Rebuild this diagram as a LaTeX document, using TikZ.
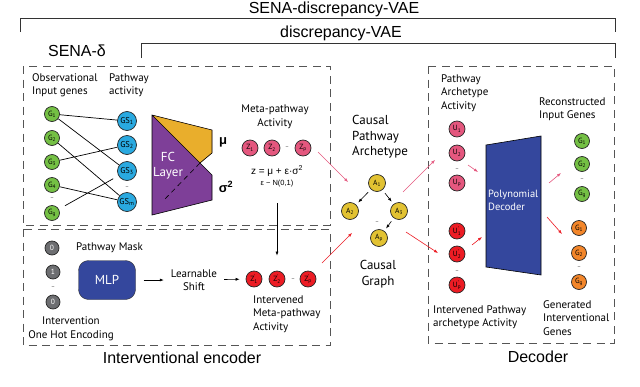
\documentclass[tikz,border=0pt]{standalone}
\usepackage{fontspec}
\setmainfont{PT Sans}
\newfontfamily\headfont{Liberation Sans}
\usetikzlibrary{arrows.meta,positioning,calc}
\definecolor{geneGreen}{HTML}{74C044}
\definecolor{gsBlue}{HTML}{29A9E0}
\definecolor{fcPurple}{HTML}{7E3F98}
\definecolor{muOrange}{HTML}{E9AE2C}
\definecolor{zPink}{HTML}{E4577E}
\definecolor{zRed}{HTML}{EC1C24}
\definecolor{archYellow}{HTML}{E2C232}
\definecolor{hotGray}{HTML}{6D6E71}
\definecolor{netBlue}{HTML}{34479D}
\definecolor{geneOrange}{HTML}{F3862A}
\definecolor{frameGray}{HTML}{555555}
\newcommand\prm[2]{#1\rlap{\textsuperscript{'}}\textsubscript{#2}}

\begin{document}
\begin{tikzpicture}[x=1pt, y=-1pt, every node/.style={font=\fontsize{11}{13.5}\selectfont},
  unit/.style={circle, draw=black!85, line width=0.7pt, inner sep=0pt, minimum size=15pt, font=\fontsize{7.5}{8}\selectfont},
  gene/.style={unit, fill=geneGreen},
  gset/.style={unit, fill=gsBlue, minimum size=19pt, font=\fontsize{8.5}{9}\selectfont},
  meta/.style={unit, fill=zPink, minimum size=16pt},
  shifted/.style={unit, fill=zRed, minimum size=16pt},
  arch/.style={unit, fill=archYellow, minimum size=17pt},
  onehot/.style={unit, fill=hotGray, text=white, minimum size=14pt, font=\fontsize{7.5}{8}\selectfont},
  outgene/.style={unit, fill=geneOrange},
  gap/.style={inner sep=0pt, font=\fontsize{6}{6}\selectfont, text=black!70},
  lbl/.style={align=left, inner sep=0pt},
  bigLbl/.style={inner sep=0pt, font=\fontsize{13}{15.5}\selectfont},
  head/.style={inner sep=0pt, font=\headfont\fontsize{16}{16}\selectfont},
  frame/.style={draw=frameGray, line width=0.8pt, dash pattern=on 8pt off 5.5pt},
  bracket/.style={draw=black!80, line width=0.8pt},
  wire/.style={line width=0.7pt, shorten <=7pt, shorten >=6pt},
  arrow/.style={-{Latex[length=4pt, width=3pt]}, line width=0.6pt},
  pinkarrow/.style={arrow, draw=zPink},
  redarrow/.style={arrow, draw=zRed}]
\useasboundingbox (0,0) rectangle (640,386);
% model brackets
\node[head] (sdvae) at (334,9) {SENA-discrepancy-VAE};
\draw[bracket] (20,32) -- (20,18) -- (615,18) -- (615,32);
\node[head] (dvae) at (341,33) {discrepancy-VAE};
\draw[bracket] (141,58) -- (141,43) -- (615,43) -- (615,58);
\node[head] (sena) at (77,51) {SENA-δ};
% frames
\draw[frame] (23,66) rectangle (330,225);
\draw[frame] (23,229) rectangle (330,345);
\draw[frame] (428,66) rectangle (614,343);
\node[head] (enc) at (182,358) {Interventional encoder};
\node[head] (dec) at (538,357) {Decoder};
% encoder, genes to pathways
\node[lbl, anchor=west] (obslbl) at (32,85) {Observational\\Input genes};
\node[lbl, anchor=west] (actlbl) at (109,85) {Pathway\\activity};
\node[gene] (g1) at (52,114) {G\textsubscript{1}};
\node[gene] (g2) at (52,138) {G\textsubscript{2}};
\node[gene] (g3) at (52,162) {G\textsubscript{3}};
\node[gene] (g4) at (52,185) {G\textsubscript{4}};
\node[gap] (gdots) at (52,199) {--};
\node[gene] (gg) at (52,213) {G\textsubscript{g}};
\node[gset] (gs1) at (127,121) {GS\textsubscript{1}};
\node[gset] (gs2) at (127,145) {GS\textsubscript{2}};
\node[gset] (gs3) at (127,171) {GS\textsubscript{3}};
\node[gap] (gsdots) at (127,188) {--};
\node[gset] (gsm) at (127,202) {GS\textsubscript{m}};
\draw[wire] (g1) -- (gs1) (g1) -- (gs3) (g2) -- (gsm) (g3) -- (gs2) (g4) -- (gsm) (gg) -- (gs3);
% FC layer
\fill[fcPurple] (152,115) -- (212,130) -- (212,153) -- (200,163) -- (212,175) -- (212,200) -- (152,215) -- cycle;
\fill[muOrange] (152,115) -- (212,130) -- (212,153) -- (200,163) -- cycle;
\draw[line width=0.6pt] (152,115) -- (212,130) -- (212,153) -- (200,163) -- (212,175) -- (212,200) -- (152,215) -- cycle (152,115) -- (200,163);
\draw[line width=0.6pt, dash pattern=on 5pt off 4pt] (200,163) -- (163,201);
\node[text=white, align=center, font=\fontsize{13}{15}\selectfont] (fc) at (168,166) {FC\\Layer};
\node[font=\headfont\bfseries\fontsize{13}{13}\selectfont] (mu) at (223,142) {μ};
\node[font=\headfont\bfseries\fontsize{13}{13}\selectfont] (sigma) at (226,187) {σ\textsuperscript{2}};
% meta-pathway activity
\node[align=center, inner sep=0pt] (metalbl) at (275,117) {Meta-pathway\\Activity};
\node[meta] (z1) at (250,148) {Z\textsubscript{1}};
\node[meta] (z2) at (272,148) {Z\textsubscript{2}};
\node[gap] (zdots) at (287,148) {--};
\node[meta] (zp) at (303,148) {Z\textsubscript{p}};
\node[font=\headfont\fontsize{10}{10}\selectfont] (zeq) at (277,171) {z = μ + ε·σ\textsuperscript{2}};
\node[font=\headfont\fontsize{7.5}{8}\selectfont] (eps) at (277,184) {ε \textasciitilde{} N(0,1)};
% interventional part
\node[onehot] (h1) at (52,248) {0};
\node[onehot] (h2) at (53,272) {1};
\node[gap] (hdots) at (53,288) {--};
\node[onehot] (h3) at (53,302) {0};
\node[lbl, anchor=west] (masklbl) at (76,248) {Pathway Mask};
\node[align=center, inner sep=0pt] (hotlbl) at (71,329) {Intervention\\One Hot Encoding};
\node[draw=black!80, fill=netBlue, rounded corners=10pt, minimum width=57pt, minimum height=39pt, text=white, font=\fontsize{13}{13}\selectfont] (mlp) at (107,280) {MLP};
\node[align=center, inner sep=0pt] (shift) at (194,280) {Learnable\\Shift};
\node[shifted] (zs1) at (254,279) {\prm{Z}{1}};
\node[shifted] (zs2) at (277,279) {\prm{Z}{2}};
\node[gap] (zsdots) at (293,280) {--};
\node[shifted] (zsp) at (308,279) {\prm{Z}{p}};
\node[lbl, anchor=west] (intlbl) at (253,314) {Intervened\\Meta-pathway\\Activity};
\draw[arrow, shorten <=8pt, shorten >=7pt] (mlp) -- (shift);
\draw[arrow, shorten <=7pt, shorten >=6pt] (shift) -- (zs1);
\draw[arrow, shorten <=12pt, shorten >=15pt] (eps) -- (zs2);
% causal graph
\node[bigLbl, lbl, anchor=west, font=\fontsize{13}{15.5}\selectfont] (cpa) at (352,137) {Causal\\Pathway\\Archetype};
\node[arch] (a1) at (377,183) {A\textsubscript{1}};
\node[arch] (a2) at (350,211) {A\textsubscript{2}};
\node[arch] (a3) at (399,211) {A\textsubscript{3}};
\node[gap] (adots) at (377,223) {--};
\node[arch] (ap) at (379,238) {A\textsubscript{p}};
\node[bigLbl, align=center] (cg) at (378,274) {Causal\\Graph};
\draw[arrow, shorten <=4pt, shorten >=3pt] (a1) -- (a2);
\draw[arrow, shorten <=4pt, shorten >=3pt] (a1) -- (a3);
\draw[arrow, shorten <=4pt, shorten >=3pt] (a3) -- (ap);
\draw[pinkarrow] ([shift={(15,4)}]zp.center) -- ([shift={(-29,-1)}]a1.center);
\draw[redarrow] ([shift={(14,-16)}]zsp.center) -- ([shift={(2,22)}]a2.center);
% decoder
\node[lbl, anchor=west] (palbl) at (441,93) {Pathway\\Archetype\\Activity};
\node[meta] (u1) at (457,129) {U\textsubscript{1}};
\node[meta] (u2) at (457,153) {U\textsubscript{2}};
\node[gap] (udots) at (457,170) {--};
\node[meta] (up) at (457,183) {U\textsubscript{p}};
\node[shifted] (us1) at (457,231) {\prm{U}{1}};
\node[shifted] (us2) at (457,254) {\prm{U}{2}};
\node[gap] (usdots) at (457,272) {--};
\node[shifted] (usp) at (457,285) {\prm{U}{p}};
\node[lbl, anchor=west] (ipalbl) at (433,317) {Intervened Pathway\\archetype Activity};
\filldraw[fill=netBlue, draw=black, line width=0.6pt] (486,145) -- (541,136) -- (541,275) -- (486,267) -- cycle;
\node[lbl, anchor=west, text=white, font=\fontsize{10.5}{13}\selectfont] (poly) at (488,200) {Polynomial\\Decoder};
\node[lbl, anchor=west] (reclbl) at (539,109) {Reconstructed\\Input Genes};
\node[gene] (r1) at (582,141) {G\textsubscript{1}};
\node[gene] (r2) at (582,164) {G\textsubscript{2}};
\node[gap] (rdots) at (582,180) {--};
\node[gene] (rg) at (582,194) {G\textsubscript{g}};
\node[outgene] (o1) at (579,228) {G\textsubscript{1}};
\node[outgene] (o2) at (579,253) {G\textsubscript{2}};
\node[gap] (odots) at (579,268) {--};
\node[outgene] (og) at (579,282) {G\textsubscript{g}};
\node[lbl, anchor=west] (genlbl) at (543,318) {Generated\\Interventional\\Genes};
\draw[pinkarrow] ([shift={(4,-19)}]a3.center) -- ([shift={(-22,7)}]u2.center);
\draw[redarrow] ([shift={(27,-6)}]ap.center) -- ([shift={(-19,-1)}]us2.center);
\draw[pinkarrow] ([shift={(11,12)}]u2.center) -- ++(10,7);
\draw[redarrow] ([shift={(15,-9)}]us2.center) -- ++(10,-8);
\draw[pinkarrow] ([shift={(-33,19)}]r2.center) -- ++(12,-10);
\draw[redarrow] ([shift={(-32,-11)}]o1.center) -- ++(15,17);
\end{tikzpicture}
\end{document}
